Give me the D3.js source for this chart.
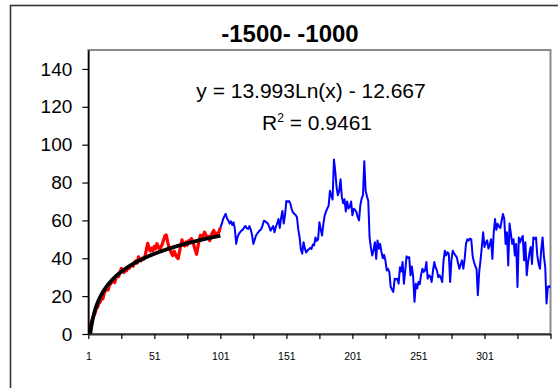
<!DOCTYPE html>
<html>
<head>
<meta charset="utf-8">
<script src="https://cdn.jsdelivr.net/npm/d3@7"></script>
<style>
  html, body { margin: 0; padding: 0; background: #fff; }
  svg { display: block; font-family: Arial, "Liberation Sans", sans-serif; }
</style>
</head>
<body>
<svg id="chart" width="558" height="388"></svg>
<script>
// Series values, one per category (categories 1..351)
const redStart = 1;
const redValues = [
  0.5, 3.2, 5.8, 7.6, 9.4, 10.8, 13.5, 14.1, 16.2, 17.0,
  19.3, 18.6, 21.4, 22.9, 24.1, 23.2, 25.8, 26.5, 27.9, 28.4,
  27.1, 29.6, 31.2, 30.4, 32.8, 34.6, 33.1, 32.5, 34.0, 33.4,
  35.2, 34.7, 36.0, 36.5, 35.8, 37.9, 38.6, 37.4, 40.8, 39.2,
  38.7, 40.1, 39.5, 41.3, 44.6, 47.9, 45.2, 43.8, 45.4, 44.1,
  46.3, 45.0, 47.7, 46.2, 44.8, 45.9, 47.4, 49.6, 51.8, 52.3,
  48.9, 46.1, 44.5, 42.6, 41.4, 43.7, 42.2, 40.5, 39.8, 43.1,
  46.8, 49.7, 47.2, 46.5, 48.6, 47.0, 49.3, 48.1, 50.4, 49.0,
  46.7, 44.3, 42.1, 45.9, 49.8, 52.2, 50.6, 51.9, 53.8, 52.4,
  50.7, 51.5, 49.3, 52.0, 53.6, 54.7, 52.1, 53.3, 52.5, 54.0,
  56.2
];

const blueStart = 101;
const blueValues = [
  56.2, 58.0, 60.5, 62.1, 63.5, 61.2, 60.0, 58.3, 59.5, 57.6,
  59.0, 55.4, 47.6, 51.2, 52.9, 53.8, 54.6, 55.1, 56.3, 57.0,
  55.9, 55.5, 57.0, 55.2, 52.3, 47.6, 49.8, 52.0, 53.1, 54.0,
  54.8, 55.5, 57.4, 59.8, 59.5, 58.9, 58.3, 56.7, 54.6, 55.8,
  57.0, 53.7, 56.5, 58.4, 60.7, 56.0, 61.3, 65.0, 58.3, 63.1,
  70.3, 69.8, 70.2, 68.9, 66.0, 64.2, 63.5, 62.8, 61.6, 55.3,
  51.0, 44.6, 42.4, 48.5, 45.2, 43.0, 44.1, 44.8, 45.5, 44.9,
  47.3, 46.8, 51.0, 49.2, 50.0, 59.0, 55.4, 52.0, 58.2, 62.5,
  64.7, 66.3, 67.8, 75.6, 73.0, 71.0, 92.2, 86.0, 77.5, 73.3,
  75.6, 81.7, 72.4, 69.0, 71.2, 64.7, 70.0, 66.3, 67.2, 70.0,
  62.7, 66.1, 65.5, 64.5, 61.8, 60.0, 68.0, 71.5, 73.3, 91.3,
  75.6, 72.8, 70.3, 51.0, 45.6, 41.5, 44.3, 48.5, 39.7, 49.4,
  45.0, 47.6, 43.3, 40.0, 41.8, 38.8, 33.6, 34.4, 32.5, 24.8,
  23.5, 22.2, 29.2, 28.8, 29.2, 26.6, 35.3, 33.0, 38.0, 26.6,
  33.4, 41.0, 40.2, 40.6, 31.0, 35.7, 30.2, 17.0, 26.6, 24.0,
  27.5, 26.3, 31.2, 34.5, 32.8, 33.6, 38.0, 29.2, 31.0, 30.3,
  27.5, 33.4, 38.0, 35.1, 33.6, 30.0, 31.0, 29.6, 27.5, 38.8,
  44.0, 41.5, 43.2, 42.3, 27.5, 39.2, 44.0, 42.7, 41.5, 40.6,
  37.4, 34.5, 36.8, 38.9, 34.5, 39.6, 47.6, 50.0, 49.3, 50.4,
  50.0, 41.5, 38.2, 35.9, 34.5, 20.5, 32.7, 38.9, 46.0, 53.7,
  46.0, 48.1, 49.5, 45.1, 47.2, 50.0, 39.7, 53.5, 60.7, 55.0,
  58.2, 56.7, 56.0, 59.8, 63.4, 60.7, 47.6, 53.7, 36.2, 58.3,
  53.0, 47.6, 50.0, 41.5, 47.6, 24.8, 51.0, 48.5, 50.6, 51.8,
  38.9, 48.5, 31.0, 38.0, 42.5, 46.0, 37.0, 51.0, 50.2, 51.0,
  41.5, 37.0, 34.5, 44.6, 51.0, 41.0, 35.5, 16.1, 24.8, 25.3,
  24.5
];

// Logarithmic trendline fitted to the red series: y = a*ln(x) + b
const fitA = 13.993;
const fitB = -12.667;
const fitR2 = "0.9461";
const fitRange = [1, 101];

// Axis labels
const titleText = "-1500- -1000";
const yTicks = [0, 20, 40, 60, 80, 100, 120, 140];
const xTickMarks = d3.range(1, 352, 25);
const xTickLabels = ["1", "51", "101", "151", "201", "251", "301"];
const categoryRange = [1, 351];
const valueRange = [0, 150];

const svg = d3.select("#chart");

const plot = { left: 88.3, right: 550.5, top: 50, bottom: 334 };

const x = d3.scaleLinear().domain(categoryRange).range([plot.left, plot.right]);
const y = d3.scaleLinear().domain(valueRange).range([plot.bottom, plot.top]);

// Outer chart frame
svg.append("rect")
  .attr("x", 10.5).attr("y", 5.5)
  .attr("width", 700).attr("height", 500)
  .attr("fill", "#fff")
  .attr("stroke", "#333").attr("stroke-width", 1.6);

// Title
svg.append("text")
  .attr("x", 290).attr("y", 42)
  .attr("text-anchor", "middle")
  .attr("font-weight", "bold")
  .attr("font-size", 24)
  .attr("fill", "#000")
  .text(titleText);

// Plot area border
svg.append("rect")
  .attr("x", plot.left).attr("y", plot.top)
  .attr("width", plot.right - plot.left).attr("height", plot.bottom - plot.top)
  .attr("fill", "#fff")
  .attr("stroke", "#8a8a8a").attr("stroke-width", 2);

svg.append("clipPath").attr("id", "plotClip")
  .append("rect")
  .attr("x", plot.left).attr("y", plot.top)
  .attr("width", plot.right - plot.left).attr("height", plot.bottom - plot.top);

const marks = svg.append("g").attr("clip-path", "url(#plotClip)");

const line = d3.line()
  .x(d => x(d.i))
  .y(d => y(d.v));

const blueData = blueValues.map((v, k) => ({ i: blueStart + k, v }));
const redData = redValues.map((v, k) => ({ i: redStart + k, v }));
const fitData = d3.range(fitRange[0], fitRange[1] + 0.01, 0.25)
  .map(i => ({ i, v: fitA * Math.log(i) + fitB }));

marks.append("path")
  .datum(blueData)
  .attr("d", line)
  .attr("fill", "none")
  .attr("stroke", "#0000ff")
  .attr("stroke-width", 2)
  .attr("stroke-linejoin", "round");

marks.append("path")
  .datum(redData)
  .attr("d", line)
  .attr("fill", "none")
  .attr("stroke", "#ff0000")
  .attr("stroke-width", 3.2)
  .attr("stroke-linejoin", "round");

marks.append("path")
  .datum(fitData)
  .attr("d", line)
  .attr("fill", "none")
  .attr("stroke", "#000")
  .attr("stroke-width", 3.8)
  .attr("stroke-linejoin", "round");

// Y axis
const yAxis = svg.append("g")
  .attr("transform", `translate(${plot.left},0)`)
  .call(d3.axisLeft(y).tickValues(yTicks).tickSize(6).tickSizeOuter(0).tickPadding(10));
yAxis.select(".domain").attr("stroke", "#000").attr("stroke-width", 1.5);
yAxis.selectAll(".tick line").attr("stroke", "#000").attr("stroke-width", 1.2);
yAxis.selectAll(".tick text")
  .attr("font-family", "Arial, 'Liberation Sans', sans-serif")
  .attr("font-size", 19).attr("fill", "#000");

// X axis
const xAxis = svg.append("g")
  .attr("transform", `translate(0,${plot.bottom})`)
  .call(d3.axisBottom(x).tickValues(xTickMarks).tickSize(5).tickSizeOuter(0).tickPadding(14)
    .tickFormat(d => xTickLabels.includes(String(d)) ? String(d) : ""));
xAxis.select(".domain").attr("stroke", "#333").attr("stroke-width", 2);
xAxis.selectAll(".tick line").attr("stroke", "#000").attr("stroke-width", 1.2);
xAxis.selectAll(".tick text")
  .attr("font-family", "Arial, 'Liberation Sans', sans-serif")
  .attr("font-size", 10.5).attr("fill", "#000");

// Trendline equation label
svg.append("text")
  .attr("x", 311).attr("y", 98)
  .attr("text-anchor", "middle")
  .attr("font-size", 21)
  .attr("fill", "#000")
  .text(`y = ${fitA}Ln(x) - ${Math.abs(fitB)}`);
const r2 = svg.append("text")
  .attr("x", 317).attr("y", 130)
  .attr("text-anchor", "middle")
  .attr("font-size", 21)
  .attr("fill", "#000");
r2.append("tspan").text("R");
r2.append("tspan").attr("font-size", 12).attr("dy", -8).text("2");
r2.append("tspan").attr("dy", 8).text(` = ${fitR2}`);
</script>
</body>
</html>
